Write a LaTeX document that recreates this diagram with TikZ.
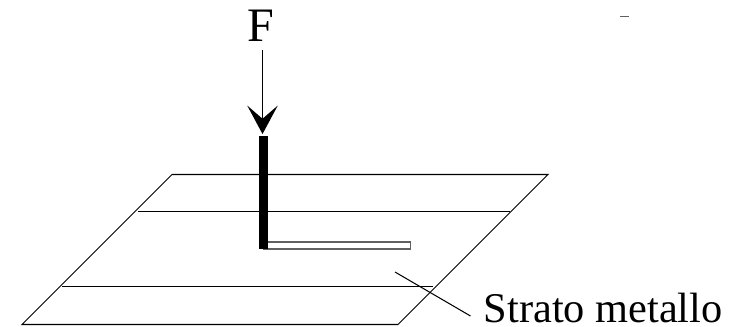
\documentclass[tikz,border=0pt]{standalone}
\usepackage{fontspec}
\setmainfont{Liberation Serif}
\usetikzlibrary{arrows.meta}
\definecolor{stripgray}{HTML}{606060}
\newcommand{\LabelFont}{\fontsize{30.6}{36}\selectfont}
\newcommand{\LoadFont}{\fontsize{34.7}{40}\selectfont}
\tikzset{
  thinline/.style={line width=0.75pt,black},
  labeltext/.style={inner sep=0pt,font=\LabelFont},
  forcearrow/.style={thinline,-{Stealth[length=20.5pt,width=22pt,inset=9.5pt]}}
}

\begin{document}
\begin{tikzpicture}[x=0.01in,y=0.01in]
  \useasboundingbox (0,0) rectangle (731,326);
  % metal layer
  \draw[thinline] (172,151.5) -- (548,151.5) -- (398,1.5) -- (22,1.5) -- cycle;
  \coordinate (upperL) at (138,114.5);
  \coordinate (upperR) at (510,114.5);
  \coordinate (lowerL) at (62,39.5);
  \coordinate (lowerR) at (433,39.5);
  \draw[thinline] (upperL) -- (upperR);
  \draw[thinline] (lowerL) -- (lowerR);
  % contact
  \draw[line width=1pt,stripgray,fill=white] (264,77) rectangle (410.3,84);
  \fill[black] (259,77) rectangle (267.5,190);
  % load
  \node[labeltext,font=\LoadFont,anchor=base] (loadF) at (260.8,285) {F};
  \coordinate (forceTip) at (262.5,192);
  \draw[forcearrow,shorten <=6.5pt] (loadF.south -| forceTip) -- (forceTip);
  % label
  \node[labeltext,anchor=base west] (stratoLabel) at (483.5,3.5) {Strato metallo};
  \coordinate (leaderStart) at (395,54);
  \coordinate (leaderEnd) at (470.5,10);
  \draw[thinline] (leaderStart) -- (leaderEnd);
  % stray mark
  \draw[line width=1pt,stripgray] (620,309.5) -- (629,309.5);
\end{tikzpicture}
\end{document}
